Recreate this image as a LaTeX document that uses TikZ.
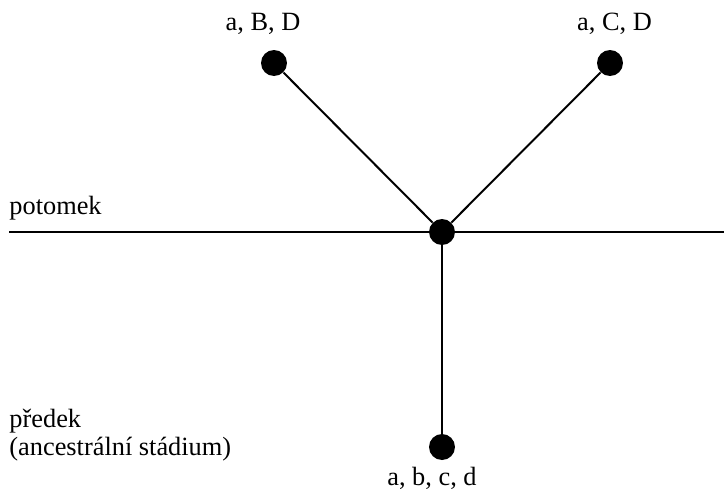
\documentclass[tikz,border=0pt]{standalone}
\usepackage{fontspec}
\setmainfont{Liberation Serif}
\usepackage{tikz}
\usetikzlibrary{positioning}

\begin{document}
\begin{tikzpicture}[x=0.016cm, y=-0.016cm, font=\fontsize{12}{14}\selectfont,
        dot/.style={circle, fill=black, draw=none, inner sep=0pt, minimum size=0.416cm},
        lbl/.style={inner sep=0pt},
        edge/.style={line width=0.9pt}]
    \useasboundingbox (0,0) rectangle (724,495);

    % taxony
    \node[dot] (left)   at (274,63)  {};
    \node[dot] (right)  at (610,63)  {};
    \node[dot] (centre) at (442,232) {};
    \node[dot] (anc)    at (442,447) {};

    % casova osa
    \coordinate (axisL) at (9,232);
    \coordinate (axisR) at (724,232);
    \draw[edge] (axisL) -- (axisR);

    \draw[edge] (left) -- (centre);
    \draw[edge] (right) -- (centre);
    \draw[edge] (centre) -- (anc);

    \node[lbl, anchor=base] (leftLbl)  at (263,30)   {a, B, D};
    \node[lbl, anchor=base] (rightLbl) at (614.5,30) {a, C, D};
    \node[lbl, anchor=base] (ancLbl)   at (432,485)  {a, b, c, d};
    \node[lbl, anchor=base west] (potomek) at (9,214) {potomek};
    \node[lbl, anchor=base west] (predek)  at (9,427) {předek};
    \node[lbl, anchor=base west] (stadium) at (9,455) {(ancestrální stádium)};
\end{tikzpicture}
\end{document}
